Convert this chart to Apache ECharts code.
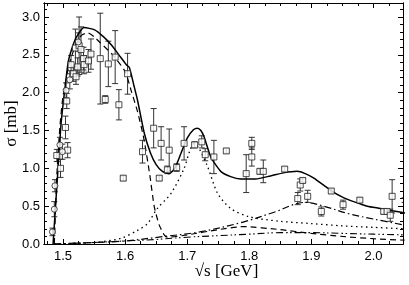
<!DOCTYPE html>
<html><head><meta charset="utf-8">
<script src="https://cdn.jsdelivr.net/npm/echarts@6/dist/echarts.min.js"></script>
<style>html,body{margin:0;padding:0;background:#fff}#c{width:409px;height:285px}</style>
</head><body><div id="c"></div>
<script>
// ---- tick labels ----
const xTicks = [1.5, 1.6, 1.7, 1.8, 1.9, 2.0];
const xMinor = [1.475, 1.525, 1.55, 1.575, 1.625, 1.65, 1.675, 1.725, 1.75, 1.775, 1.825, 1.85, 1.875, 1.925, 1.95, 1.975, 2.025];
const yTicks = [0, 0.5, 1.0, 1.5, 2.0, 2.5, 3.0];
const yMinor = [0.1,0.2,0.3,0.4,0.6,0.7,0.8,0.9,1.1,1.2,1.3,1.4,1.6,1.7,1.8,1.9,2.1,2.2,2.3,2.4,2.6,2.7,2.8,2.9,3.1];

// ---- data points: [sqrt(s), sigma, error] ----
const squarePoints = [
  [1.490,1.17,0.08],[1.496,1.00,0.12],[1.504,1.54,0.15],[1.5075,1.24,0.10],[1.506,1.89,0.10],
  [1.513,2.37,0.12],[1.5166,2.25,0.10],[1.521,2.21,0.10],[1.5236,2.34,0.12],[1.520,2.59,0.25],
  [1.526,2.62,0.38],[1.529,2.57,0.30],[1.533,2.45,0.15],[1.534,2.37,0.12],[1.541,2.42,0.15],
  [1.545,2.51,0.20],[1.560,2.45,0.60],[1.568,1.91,0.05],[1.573,2.38,0.30],[1.584,2.47,0.35],
  [1.590,1.84,0.20],[1.597,0.87,0.03],[1.604,2.25,0.27],[1.628,1.22,0.15],[1.646,1.53,0.26],
  [1.655,0.87,0.03],[1.658,1.33,0.22],[1.668,0.98,0.05],[1.671,1.24,0.28],[1.683,1.01,0.05],
  [1.695,1.33,0.22],[1.712,1.31,0.04],[1.7235,1.35,0.08],[1.729,1.18,0.08],[1.743,1.15,0.22],
  [1.763,1.23,0.03],[1.795,0.93,0.25],[1.804,1.33,0.08],[1.804,1.15,0.12],[1.817,0.96,0.03],
  [1.8225,0.96,0.15],[1.857,0.99,0.03],[1.878,0.60,0.08],[1.882,0.78,0.08],[1.886,0.84,0.03],
  [1.894,0.63,0.08],[1.916,0.43,0.06],[1.932,0.70,0.03],[1.951,0.52,0.06],[1.978,0.58,0.03],
  [2.0165,0.43,0.03],[2.022,0.43,0.03],[2.027,0.38,0.08],[2.030,0.63,0.22],[2.050,0.58,0.03]
];
const circlePoints = [
  [1.483,0.16,0.05],[1.486,0.46,0.10],[1.487,0.77,0.08],[1.495,1.31,0.10],[1.499,1.22,0.10],
  [1.505,2.03,0.10],[1.511,2.17,0.12],[1.5246,2.67,0.12]
];

// ---- model curves: [sqrt(s), sigma] ----
const totalCurve = [
  [1.484,0],[1.488,0.5],[1.492,1.0],[1.497,1.6],[1.503,2.05],[1.5085,2.41],[1.515,2.6],[1.522,2.74],
  [1.534,2.86],[1.551,2.83],[1.565,2.74],[1.578,2.63],[1.590,2.50],[1.602,2.37],[1.607,2.33],
  [1.614,2.10],[1.620,1.90],[1.631,1.46],[1.641,1.20],[1.650,1.05],[1.660,0.96],[1.671,0.93],
  [1.680,1.00],[1.690,1.20],[1.700,1.40],[1.710,1.51],[1.7165,1.53],[1.722,1.50],[1.727,1.42],
  [1.738,1.15],[1.754,0.96],[1.770,0.89],[1.786,0.86],[1.810,0.86],[1.834,0.90],[1.855,0.94],
  [1.877,0.96],[1.890,0.93],[1.904,0.87],[1.931,0.71],[1.950,0.62],[1.968,0.56],[1.990,0.50],
  [2.011,0.47],[2.030,0.44],[2.051,0.41]
];
const dashedCurve = [
  [1.486,0],[1.490,0.9],[1.495,1.55],[1.500,1.95],[1.510,2.38],[1.520,2.62],[1.530,2.76],[1.540,2.79],
  [1.550,2.74],[1.560,2.66],[1.580,2.50],[1.600,2.28],[1.610,2.02],[1.620,1.75],[1.630,1.40],
  [1.640,0.90],[1.647,0.49],[1.655,0.25],[1.663,0.12],[1.668,0.09],[1.700,0.12],[1.750,0.19],
  [1.790,0.23],[1.850,0.19],[1.900,0.14],[1.950,0.10],[2.000,0.07],[2.050,0.05]
];
const dottedCurve = [
  [1.486,0],[1.550,0.02],[1.593,0.075],[1.620,0.18],[1.636,0.27],[1.652,0.47],[1.674,0.67],
  [1.695,1.00],[1.705,1.25],[1.712,1.33],[1.720,1.25],[1.733,1.02],[1.749,0.67],[1.770,0.47],
  [1.800,0.36],[1.850,0.30],[1.900,0.27],[1.950,0.24],[2.000,0.22],[2.050,0.20]
];
const dashDotCurve = [
  [1.486,0],[1.550,0.02],[1.600,0.04],[1.663,0.10],[1.720,0.16],[1.790,0.29],[1.840,0.42],
  [1.890,0.55],[1.920,0.50],[1.960,0.40],[2.000,0.33],[2.050,0.25]
];
const dashDotDotCurve = [
  [1.486,0],[1.550,0.02],[1.600,0.04],[1.650,0.06],[1.700,0.09],[1.750,0.11],[1.800,0.13],
  [1.850,0.15],[1.900,0.15],[1.950,0.14],[2.000,0.13],[2.050,0.12]
];

const X_MIN = 1.4694, X_MAX = 2.0475, Y_MIN = 0, Y_MAX = 3.185;
const ink = '#000';

function xAxisDef(pos, ticks, len, labels) {
  return {
    type: 'value', min: X_MIN, max: X_MAX, position: pos, gridIndex: 0,
    axisLine: { show: true, onZero: false, lineStyle: { color: ink, width: 1 } },
    axisTick: { show: true, inside: true, length: len, customValues: ticks, lineStyle: { color: ink, width: 1 } },
    axisLabel: labels ? { show: true, customValues: xTicks, formatter: v => v.toFixed(1), fontSize: 13,
      fontFamily: 'Liberation Sans', color: ink, margin: 6 } : { show: false },
    splitLine: { show: false },
    name: labels ? '√s [GeV]' : '', nameLocation: 'middle', nameGap: 19, nameMoveOverlap: false,
    nameTextStyle: { fontFamily: 'Liberation Serif', fontSize: 17, color: ink, padding: [0, 0, 0, 6] }
  };
}
function yAxisDef(pos, ticks, len, labels) {
  return {
    type: 'value', min: Y_MIN, max: Y_MAX, position: pos, gridIndex: 0,
    axisLine: { show: true, onZero: false, lineStyle: { color: ink, width: 1 } },
    axisTick: { show: true, inside: true, length: len, customValues: ticks, lineStyle: { color: ink, width: 1 } },
    axisLabel: labels ? { show: true, customValues: yTicks, formatter: v => v.toFixed(1), fontSize: 13,
      fontFamily: 'Liberation Sans', color: ink, margin: 4 } : { show: false },
    splitLine: { show: false },
    name: labels ? 'σ [mb]' : '', nameLocation: 'middle', nameGap: 24, nameMoveOverlap: false,
    nameTextStyle: { fontFamily: 'Liberation Serif', fontSize: 17, color: ink, verticalAlign: 'bottom' }
  };
}

function errorSeries(points, name) {
  return {
    type: 'custom', name: name, xAxisIndex: 0, yAxisIndex: 0, clip: true, z: 3,
    data: points,
    renderItem: function (params, api) {
      const x = api.value(0), y = api.value(1), e = api.value(2);
      const t = api.coord([x, y + e]);
      const b = api.coord([x, y - e]);
      const w = 3;
      const st = { stroke: '#333', lineWidth: 1 };
      return { type: 'group', children: [
        { type: 'line', shape: { x1: t[0], y1: t[1], x2: b[0], y2: b[1] }, style: st },
        { type: 'line', shape: { x1: t[0] - w, y1: t[1], x2: t[0] + w, y2: t[1] }, style: st },
        { type: 'line', shape: { x1: b[0] - w, y1: b[1], x2: b[0] + w, y2: b[1] }, style: st }
      ]};
    }
  };
}
function curve(data, type, width, sm) {
  return {
    type: 'line', data: data, xAxisIndex: 0, yAxisIndex: 0, showSymbol: false, symbol: 'none',
    smooth: sm, clip: true, z: 4, silent: true,
    lineStyle: { color: ink, width: width, type: type, cap: 'butt' }
  };
}

const chart = echarts.init(document.getElementById('c'), null, { renderer: 'canvas' });
chart.setOption({
  animation: false,
  backgroundColor: '#fff',
  grid: { left: 44, right: 6, top: 3, bottom: 41, containLabel: false, outerBoundsMode: 'none' },
  xAxis: [
    xAxisDef('bottom', xTicks, 5, true),
    xAxisDef('bottom', xMinor, 3, false),
    xAxisDef('top', xTicks, 5, false),
    xAxisDef('top', xMinor, 3, false)
  ],
  yAxis: [
    yAxisDef('left', yTicks, 5, true),
    yAxisDef('left', yMinor, 3, false),
    yAxisDef('right', yTicks, 5, false),
    yAxisDef('right', yMinor, 3, false)
  ],
  series: [
    curve(totalCurve, 'solid', 1.5, 0.2),
    curve(dashedCurve, [6, 4], 1.2, 0.2),
    curve(dottedCurve, [1.5, 3.5], 1.3, 0.3),
    curve(dashDotCurve, [7, 3, 1.5, 3], 1.2, 0.35),
    curve(dashDotDotCurve, [7, 3, 1.5, 2.5, 1.5, 3], 1.1, 0.35),
    errorSeries(squarePoints, 'errSq'),
    errorSeries(circlePoints, 'errCi'),
    { type: 'scatter', data: squarePoints.map(p => [p[0], p[1]]), symbol: 'rect', symbolSize: 6, z: 5,
      itemStyle: { color: '#fff', borderColor: '#222', borderWidth: 1 } },
    { type: 'scatter', data: circlePoints.map(p => [p[0], p[1]]), symbol: 'circle', symbolSize: 6, z: 5,
      itemStyle: { color: '#fff', borderColor: '#222', borderWidth: 1 } }
  ]
});
</script></body></html>
